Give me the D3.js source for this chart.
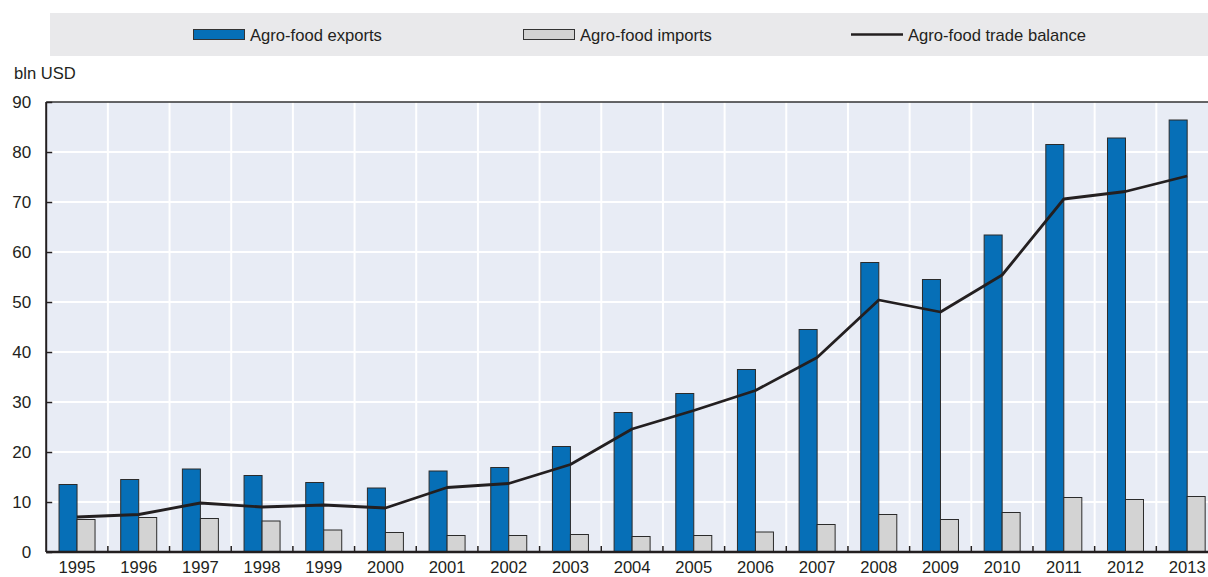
<!DOCTYPE html>
<html><head><meta charset="utf-8">
<script src="https://cdn.jsdelivr.net/npm/d3@7"></script>
<style>body{margin:0;background:#fff}svg{display:block}text{font-family:"Liberation Sans",Arial,sans-serif;fill:#231f20}</style>
</head><body><svg id="c" width="1208" height="577"></svg>
<script>
const years = ["1995","1996","1997","1998","1999","2000","2001","2002","2003","2004","2005","2006","2007","2008","2009","2010","2011","2012","2013"];
const exportsV = [13.5,14.5,16.6,15.3,13.9,12.8,16.2,16.9,21.1,27.9,31.7,36.5,44.5,57.9,54.5,63.4,81.5,82.8,86.4];
const importsV = [6.5,6.9,6.7,6.2,4.4,3.9,3.3,3.3,3.5,3.1,3.3,4.0,5.5,7.5,6.5,7.9,10.9,10.5,11.1];
const balanceV = [7.0,7.5,9.8,9.0,9.4,8.8,12.9,13.7,17.5,24.6,28.3,32.3,38.9,50.4,48.0,55.4,70.6,72.1,75.2];
const yTicks = [0,10,20,30,40,50,60,70,80,90];
const seriesNames = ["Agro-food exports","Agro-food imports","Agro-food trade balance"];

const svg = d3.select("#c");
const pL = 46.2, pR = 1218, pT = 102, pB = 552;
const x = d3.scaleBand().domain(years).range([pL, pR]).padding(0);
const y = d3.scaleLinear().domain([0, 90]).range([pB, pT]);
const bw = 18;
const fs = 16.6;

// legend
svg.append("rect").attr("x",50).attr("y",13).attr("width",1158).attr("height",43).attr("fill","#e9e9eb");
const lg = [{x:193,type:"bar",fill:"#066fb7"},{x:523,type:"bar",fill:"#d3d3d3"},{x:851,type:"line"}];
lg.forEach((d,i)=>{
  if(d.type==="bar") svg.append("rect").attr("x",d.x+0.5).attr("y",29.5).attr("width",51).attr("height",10).attr("fill",d.fill).attr("stroke","#333").attr("stroke-width",1);
  else svg.append("line").attr("x1",d.x).attr("x2",d.x+52).attr("y1",34.5).attr("y2",34.5).attr("stroke","#231f20").attr("stroke-width",2.5);
  svg.append("text").attr("x",d.x+57).attr("y",40.5).attr("font-size",fs).text(seriesNames[i]);
});

// plot background
const g = svg.append("g");
g.append("rect").attr("x",pL).attr("y",pT).attr("width",pR-pL).attr("height",pB-pT).attr("fill","#e8ecf5");
// grid
g.selectAll(".hg").data(yTicks.slice(1,-1)).join("line").attr("x1",pL).attr("x2",pR)
 .attr("y1",d=>y(d)).attr("y2",d=>y(d)).attr("stroke","#fff").attr("stroke-width",2);
g.selectAll(".vg").data(years.slice(1)).join("line").attr("x1",d=>x(d)).attr("x2",d=>x(d))
 .attr("y1",pT).attr("y2",pB).attr("stroke","#fff").attr("stroke-width",2);

// bars
g.selectAll(".ex").data(years).join("rect")
 .attr("x",d=>x(d)+x.bandwidth()/2-bw).attr("y",(d,i)=>y(exportsV[i])).attr("width",bw)
 .attr("height",(d,i)=>y(0)-y(exportsV[i])).attr("fill","#066fb7").attr("stroke","#2b2b2b").attr("stroke-width",1);
g.selectAll(".im").data(years).join("rect")
 .attr("x",d=>x(d)+x.bandwidth()/2).attr("y",(d,i)=>y(importsV[i])).attr("width",bw)
 .attr("height",(d,i)=>y(0)-y(importsV[i])).attr("fill","#d3d3d3").attr("stroke","#2b2b2b").attr("stroke-width",1);

// line
const line = d3.line().x((d,i)=>x(years[i])+x.bandwidth()/2).y(d=>y(d));
g.append("path").datum(balanceV).attr("d",line).attr("fill","none").attr("stroke","#231f20").attr("stroke-width",2.8).attr("stroke-linejoin","round");

// axes frame
g.append("line").attr("x1",pL).attr("x2",pR).attr("y1",pT).attr("y2",pT).attr("stroke","#333").attr("stroke-width",1.5);
g.append("line").attr("x1",pL).attr("x2",pL).attr("y1",pT).attr("y2",pB).attr("stroke","#231f20").attr("stroke-width",2);
g.append("line").attr("x1",pL).attr("x2",pR).attr("y1",pB).attr("y2",pB).attr("stroke","#231f20").attr("stroke-width",2.5);

// y axis
const ya = svg.append("g").attr("transform",`translate(${pL},0)`).call(d3.axisLeft(y).tickValues(yTicks).tickSize(-6).tickPadding(15));
ya.select(".domain").remove();
ya.selectAll(".tick line").attr("stroke","#231f20").attr("stroke-width",1.5);
ya.selectAll(".tick text").attr("font-size",fs+0.4).attr("dy","0.35em").attr("fill","#231f20").style("font-family",'"Liberation Sans",Arial,sans-serif');

// x axis
const xa = svg.append("g").attr("transform",`translate(0,${pB})`).call(d3.axisBottom(x).tickSize(0).tickPadding(9));
xa.select(".domain").remove();
xa.selectAll(".tick text").attr("font-size",fs).attr("fill","#231f20").style("font-family",'"Liberation Sans",Arial,sans-serif');
g.selectAll(".xt").data(years.slice(1)).join("line").attr("x1",d=>x(d)).attr("x2",d=>x(d))
 .attr("y1",pB).attr("y2",pB-6).attr("stroke","#231f20").attr("stroke-width",1.5);

svg.append("text").attr("x",14).attr("y",79).attr("font-size",fs).text("bln USD");
</script></body></html>
